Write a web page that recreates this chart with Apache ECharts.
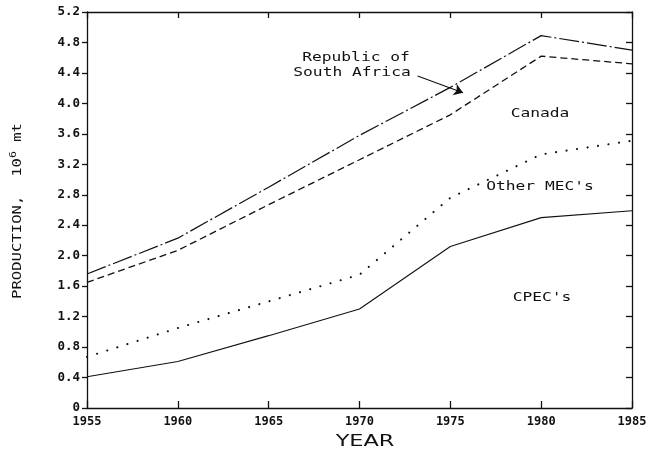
<!DOCTYPE html>
<html>
<head>
<meta charset="utf-8">
<script src="https://cdn.jsdelivr.net/npm/echarts@6/dist/echarts.min.js"></script>
<style>
  html, body { margin: 0; padding: 0; background: #fff; }
  #chart { width: 658px; height: 450px; }
</style>
</head>
<body>
<div id="chart"></div>
<script>
// Production by producer group, 10^6 metric tons
const years = [1955, 1960, 1965, 1970, 1975, 1980, 1985];
const southAfrica = [1.76, 2.23, 2.90, 3.58, 4.21, 4.89, 4.70];
const canada      = [1.65, 2.07, 2.67, 3.26, 3.85, 4.62, 4.52];
const otherMEC    = [0.67, 1.05, 1.40, 1.75, 2.76, 3.33, 3.51];
const cpec        = [0.41, 0.61, 0.95, 1.30, 2.12, 2.50, 2.59];

const yTicks = [0, 0.4, 0.8, 1.2, 1.6, 2.0, 2.4, 2.8, 3.2, 3.6, 4.0, 4.4, 4.8, 5.2];
const xTicks = [1955, 1960, 1965, 1970, 1975, 1980, 1985];

// Leader arrow from the "South Africa" label to its curve (data units)
const arrowFrom = [1973.2, 4.36];
const arrowTo   = [1975.7, 4.14];

const pairs = vals => years.map((y, i) => [y, vals[i]]);

const ink = '#111';
const mono = '"DejaVu Sans Mono", "Liberation Mono", monospace';

const chart = echarts.init(document.getElementById('chart'), null, { renderer: 'canvas' });

const baseX = {
  type: 'value', min: xTicks[0], max: xTicks[xTicks.length - 1], interval: 5,
  splitLine: { show: false },
  axisLine: { show: true, onZero: false, lineStyle: { color: ink, width: 1.3 } }
};
const baseY = {
  type: 'value', min: yTicks[0], max: yTicks[yTicks.length - 1], interval: 0.4,
  splitLine: { show: false },
  axisLine: { show: true, onZero: false, lineStyle: { color: ink, width: 1.3 } }
};

const label = (text, x, y) => ({
  type: 'text', x: x, y: y, scaleX: 1.3,
  style: { text: text, font: '12.5px ' + mono, fill: ink, align: 'center', verticalAlign: 'middle' }
});

chart.setOption({
  animation: false,
  backgroundColor: '#fff',
  grid: { left: 87, right: 26, top: 12, bottom: 42 },
  xAxis: [
    Object.assign({}, baseX, {
      position: 'bottom',
      axisTick: { show: true, inside: true, length: 7, lineStyle: { color: ink, width: 1.3 } },
      axisLabel: {
        show: true, margin: 8, color: ink, fontFamily: mono, fontWeight: 'bold', fontSize: 12,
        formatter: v => String(v)
      }
    }),
    Object.assign({}, baseX, {
      position: 'top',
      axisTick: { show: true, inside: true, length: 6, lineStyle: { color: ink, width: 1.3 } },
      axisLabel: { show: false }
    })
  ],
  yAxis: [
    Object.assign({}, baseY, {
      position: 'left',
      axisTick: { show: true, inside: false, length: 5, lineStyle: { color: ink, width: 1.3 } },
      axisLabel: {
        show: true, margin: 7, color: ink, fontFamily: mono, fontWeight: 'bold', fontSize: 12.5,
        formatter: v => (v === 0 ? '0' : v.toFixed(1))
      }
    }),
    Object.assign({}, baseY, {
      position: 'right',
      axisTick: { show: true, inside: true, length: 6, lineStyle: { color: ink, width: 1.3 } },
      axisLabel: { show: false }
    })
  ],
  series: [
    {
      name: 'Republic of South Africa', type: 'line', data: pairs(southAfrica),
      symbol: 'none', lineStyle: { color: ink, width: 1.2, type: [20, 3, 2, 3] },
      markLine: {
        silent: true, symbol: ['none', 'arrow'], symbolSize: 9,
        label: { show: false },
        lineStyle: { color: ink, width: 1.1, type: 'solid' },
        itemStyle: { color: ink },
        data: [[{ coord: arrowFrom }, { coord: arrowTo }]]
      }
    },
    {
      name: 'Canada', type: 'line', data: pairs(canada),
      symbol: 'none', lineStyle: { color: ink, width: 1.3, type: [7, 4] }
    },
    {
      name: "Other MEC's", type: 'line', data: pairs(otherMEC),
      symbol: 'none', lineStyle: { color: ink, width: 2.1, type: [0.1, 10.5], cap: 'round' }
    },
    {
      name: "CPEC's", type: 'line', data: pairs(cpec),
      symbol: 'none', lineStyle: { color: ink, width: 1.1, type: 'solid' }
    }
  ],
  graphic: [
    label('Republic of', 356, 58),
    label('South Africa', 352, 73),
    label('Canada', 540, 114),
    label("Other MEC's", 540, 187),
    label("CPEC's", 542, 298),
    { type: 'text', x: 365, y: 442, scaleX: 1.4,
      style: { text: 'YEAR', font: '16px "DejaVu Sans", sans-serif', fill: ink, align: 'center', verticalAlign: 'middle' } },
    { type: 'text', x: 18, y: 211, rotation: Math.PI / 2, scaleX: 1.2,
      style: {
        text: '{a|PRODUCTION,  10}{s|6}{a| mt}',
        align: 'center', verticalAlign: 'middle',
        rich: {
          a: { font: '13px ' + mono, fill: ink, lineHeight: 18 },
          s: { font: '9.5px ' + mono, fill: ink, lineHeight: 18, padding: [0, 0, 9, 0] }
        }
      } }
  ]
});
</script>
</body>
</html>
